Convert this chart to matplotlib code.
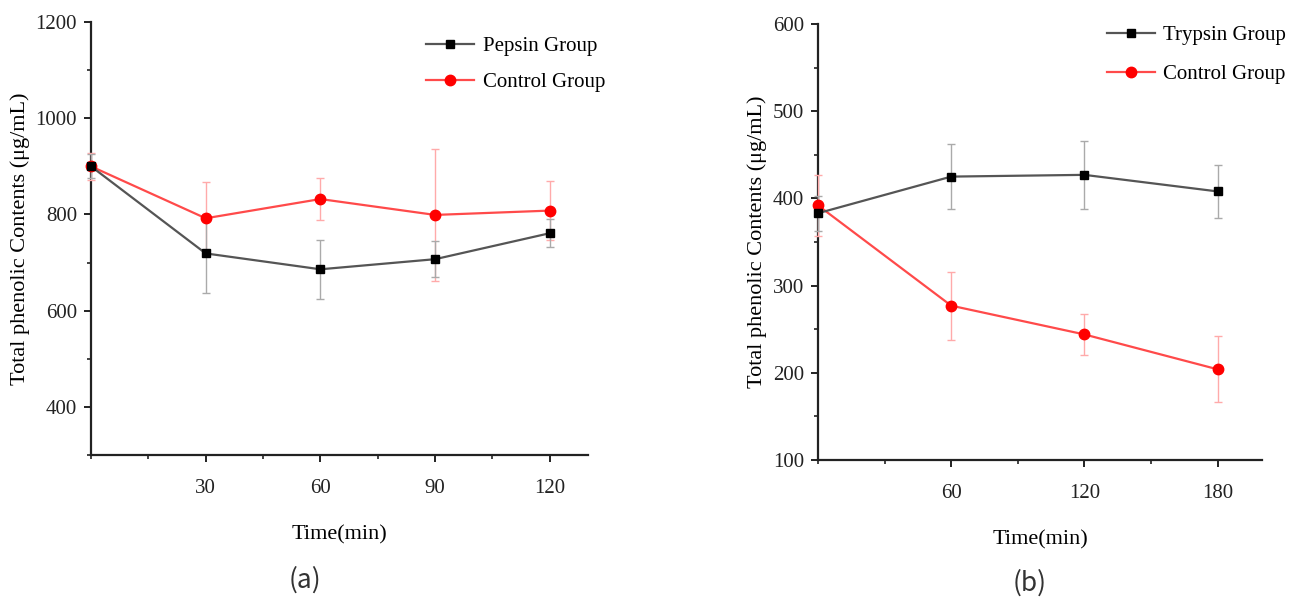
import numpy as np
import matplotlib.pyplot as plt
from matplotlib.ticker import MultipleLocator
from matplotlib.lines import Line2D

# panel (a): pepsin digestion
time_a = [0, 30, 60, 90, 120]
pepsin = [900, 719, 686, 707, 761]
pepsin_err = [25, 82, 61, 37, 29]
control_a = [900, 792, 832, 799, 808]
control_a_err = [28, 76, 44, 137, 62]

# panel (b): trypsin digestion
time_b = [0, 60, 120, 180]
trypsin = [383, 425, 427, 408]
trypsin_err = [20, 37, 39, 30]
control_b = [392, 277, 244, 204]
control_b_err = [35, 39, 24, 38]

serif = "Liberation Serif"
plt.rcParams["font.family"] = serif

fig = plt.figure(figsize=(12.98, 6.03), dpi=100)
W, H = 1298, 603

BLACK = dict(color="#555555", mfc="#000000", mec="#000000", marker="s", ms=6)
RED = dict(color="#ff4a4a", mfc="#ff0000", mec="#ff0000", marker="o", ms=7.5)


def axes_px(left, right, top, bottom):
    return fig.add_axes([left / W, 1 - bottom / H, (right - left) / W, (bottom - top) / H])


def style(ax, xlim, ylim, xmin, ymaj, ymin, xticks):
    ax.set_xlim(*xlim)
    ax.set_ylim(*ylim)
    ax.set_xticks(xticks)
    ax.xaxis.set_minor_locator(MultipleLocator(xmin))
    ax.yaxis.set_major_locator(MultipleLocator(ymaj))
    ax.yaxis.set_minor_locator(MultipleLocator(ymin))
    for s in ["top", "right"]:
        ax.spines[s].set_visible(False)
    for s in ["left", "bottom"]:
        ax.spines[s].set_linewidth(1.6)
        ax.spines[s].set_color("#222222")
    ax.tick_params(which="major", length=5, width=1.4, labelsize=15, colors="#222222", pad=5)
    ax.tick_params(which="minor", length=3, width=1.2, colors="#222222")
    ax.tick_params(axis="x", which="major", pad=12)
    ax.set_xlabel("Time(min)", fontsize=16, labelpad=20)
    ax.set_ylabel("Total phenolic Contents (μg/mL)", fontsize=16, labelpad=4)


def draw(ax, x, y, err, ecolor, st):
    ax.errorbar(x, y, yerr=err, ecolor=ecolor, elinewidth=1.0, capsize=3,
                capthick=1.0, lw=1.6, clip_on=False, zorder=3, **st)


def legend(ax, names, anchor, spacing):
    handles = [Line2D([], [], lw=1.6, **BLACK), Line2D([], [], lw=1.6, **RED)]
    ax.legend(handles, names, loc="upper right", bbox_to_anchor=anchor, frameon=False,
              fontsize=15, handlelength=2.3, labelspacing=spacing, handletextpad=0.4)


ax1 = axes_px(91, 588, 22, 455)
draw(ax1, time_a, control_a, control_a_err, "#ffaaaa", RED)
draw(ax1, time_a, pepsin, pepsin_err, "#aaaaaa", BLACK)
style(ax1, (0, 130), (300, 1200), 15, 200, 100, [30, 60, 90, 120])
legend(ax1, ["Pepsin Group", "Control Group"], (1.072, 1.01), 0.8)

ax2 = axes_px(818, 1262, 24, 460)
draw(ax2, time_b, control_b, control_b_err, "#ffaaaa", RED)
draw(ax2, time_b, trypsin, trypsin_err, "#aaaaaa", BLACK)
style(ax2, (0, 200), (100, 600), 30, 100, 50, [60, 120, 180])
legend(ax2, ["Trypsin Group", "Control Group"], (1.097, 1.04), 0.95)

fig.text(305 / W, 1 - 580 / H, "(a)", ha="center", va="center", fontsize=19,
         family=["Noto Sans CJK SC", "DejaVu Sans"], color="#333333")
fig.text(1030 / W, 1 - 583 / H, "(b)", ha="center", va="center", fontsize=19,
         family=["Noto Sans CJK SC", "DejaVu Sans"], color="#333333")

fig.savefig("out.png", dpi=100)
